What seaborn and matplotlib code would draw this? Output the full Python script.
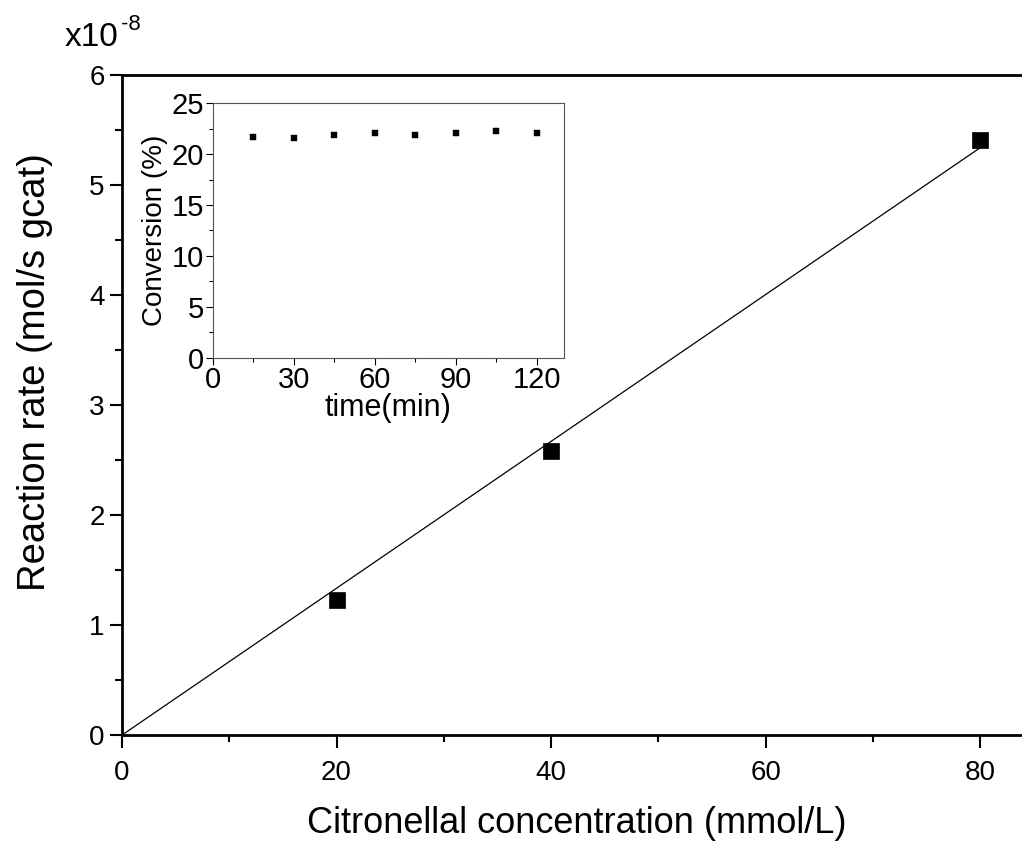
import numpy as np
import pandas as pd
import matplotlib
matplotlib.use('Agg')
import matplotlib.pyplot as plt
from matplotlib.ticker import MultipleLocator
import seaborn as sns

# main data: reaction rate (x1e-8 mol/s gcat) vs citronellal concentration
conc = [20, 40, 80]
rate = [1.23, 2.58, 5.41]

# inset data: conversion over time
time_min = [15, 30, 45, 60, 75, 90, 105, 120]
conversion = [21.7, 21.6, 21.9, 22.1, 21.9, 22.1, 22.3, 22.1]

sns.set_style('ticks')
plt.rcParams['font.family'] = ['Liberation Sans', 'DejaVu Sans']
plt.rcParams['text.color'] = 'black'
plt.rcParams['axes.labelcolor'] = 'black'
plt.rcParams['xtick.color'] = 'black'
plt.rcParams['ytick.color'] = 'black'

fig = plt.figure(figsize=(10.22, 8.41), dpi=100)
ax = fig.add_axes([0.1194, 0.126, 0.8806, 0.7848])

df = pd.DataFrame({'conc': conc, 'rate': rate})
sns.scatterplot(data=df, x='conc', y='rate', marker='s', s=120, color='black',
                edgecolor='black', linewidth=0.5, ax=ax, zorder=3)

# linear fit through origin
slope = np.sum(np.array(conc) * np.array(rate)) / np.sum(np.array(conc) ** 2)
fit = pd.DataFrame({'x': [0, max(conc)]})
fit['y'] = slope * fit['x']
sns.lineplot(data=fit, x='x', y='y', color='black', linewidth=0.9, ax=ax)

ax.set_xlim(0, 83.9)
ax.set_ylim(0, 6)
ax.xaxis.set_major_locator(MultipleLocator(20))
ax.xaxis.set_minor_locator(MultipleLocator(10))
ax.yaxis.set_major_locator(MultipleLocator(1))
ax.yaxis.set_minor_locator(MultipleLocator(0.5))
ax.tick_params(which='major', length=9, width=1.5, labelsize=20, direction='out')
ax.tick_params(which='minor', length=5, width=1.5, direction='out')
ax.tick_params(axis='x', pad=9)
for s in ['left', 'bottom', 'top']:
    ax.spines[s].set_linewidth(2)
    ax.spines[s].set_color('black')
ax.spines['right'].set_visible(False)
ax.set_xlabel('Citronellal concentration (mmol/L)', fontsize=26)
ax.set_ylabel('Reaction rate (mol/s gcat)', fontsize=27.5)
ax.xaxis.set_label_coords(0.5056, -0.108)
ax.yaxis.set_label_coords(-0.077, 0.55)
fig.text(65 / 1022, 1 - 46 / 841, 'x10', fontsize=24, ha='left', va='baseline')
fig.text(121 / 1022, 1 - 30 / 841, '-8', fontsize=16, ha='left', va='baseline')

# inset
axin = fig.add_axes([0.2081, 0.5747, 0.3437, 0.3025])
din = pd.DataFrame({'time': time_min, 'conv': conversion})
sns.scatterplot(data=din, x='time', y='conv', marker='s', s=22, color='black',
                edgecolor='black', linewidth=0.3, ax=axin)
axin.set_xlim(0, 130)
axin.set_ylim(0, 25)
axin.xaxis.set_major_locator(MultipleLocator(30))
axin.xaxis.set_minor_locator(MultipleLocator(15))
axin.yaxis.set_major_locator(MultipleLocator(5))
axin.yaxis.set_minor_locator(MultipleLocator(2.5))
axin.tick_params(which='major', length=5, width=0.8, labelsize=21, direction='out', pad=1)
axin.tick_params(which='minor', length=3, width=0.8, direction='out')
for s in axin.spines.values():
    s.set_linewidth(0.8)
    s.set_color('#555555')
axin.set_xlabel('time(min)', fontsize=22, labelpad=-1)
axin.set_ylabel('Conversion (%)', fontsize=20, labelpad=3)

fig.savefig('out.png', dpi=100)
